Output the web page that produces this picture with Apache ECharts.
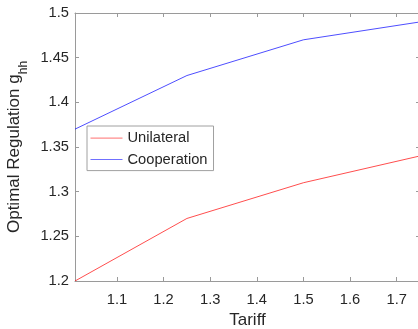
<!DOCTYPE html>
<html>
<head>
<meta charset="utf-8">
<script src="https://cdn.jsdelivr.net/npm/echarts@6/dist/echarts.min.js"></script>
<style>
html,body{margin:0;padding:0;background:#fff;}
#c{width:418px;height:329px;}
</style>
</head>
<body>
<div id="c"></div>
<script>
var tariff = [1.01, 1.25, 1.5, 1.75];
var unilateral = [1.2, 1.27, 1.31, 1.34];
var cooperation = [1.37, 1.43, 1.47, 1.49];
var xTicks = [1.1, 1.2, 1.3, 1.4, 1.5, 1.6, 1.7];
var yMin = 1.2, yMax = 1.5, yStep = 0.05;

var font = 'Liberation Sans, Arial, Helvetica, sans-serif';
var axisGray = '#9a9a9a';
var txt = '#262626';
var red = '#ff0000', blue = '#0000ff';

function pairs(xs, ys){ return xs.map(function(x,i){ return [x, ys[i]]; }); }

var chart = echarts.init(document.getElementById('c'), null, {renderer:'canvas'});
chart.setOption({
  animation:false,
  backgroundColor:'#fff',
  grid:{left:75, top:13, right:-2, bottom:48, containLabel:false, outerBoundsMode:'none'},
  legend:{
    orient:'vertical', left:87, top:126,
    backgroundColor:'#fff', borderColor:'#a0a0a0', borderWidth:1,
    padding:[4.6,6,3.6,3],
    itemWidth:32, itemHeight:14, itemGap:6.4,
    itemStyle:{opacity:0},
    lineStyle:{width:1},
    textStyle:{fontFamily:font, fontSize:14.7, color:txt, lineHeight:14},
    data:[
      {name:'Unilateral', lineStyle:{color:'#ff7070', width:1}},
      {name:'Cooperation', lineStyle:{color:'#7070ff', width:1}}
    ]
  },
  xAxis:[{
    type:'value', min:1.01, max:1.75, position:'bottom',
    name:'Tariff', nameLocation:'middle', nameGap:31,
    nameTextStyle:{fontFamily:font, fontSize:17, color:txt},
    axisLine:{show:true, onZero:false, lineStyle:{color:axisGray, width:1}},
    axisTick:{show:true, inside:true, length:4, customValues:xTicks, lineStyle:{color:axisGray}},
    axisLabel:{show:true, customValues:xTicks, margin:11, fontFamily:font, fontSize:14.7, color:txt,
      formatter:function(v){ return (+v).toFixed(1); }},
    splitLine:{show:false}
  },{
    type:'value', min:1.01, max:1.75, position:'top',
    axisLine:{show:true, onZero:false, lineStyle:{color:axisGray, width:1}},
    axisTick:{show:true, inside:true, length:4, customValues:xTicks, lineStyle:{color:axisGray}},
    axisLabel:{show:false},
    splitLine:{show:false}
  }],
  yAxis:[{
    type:'value', min:yMin, max:yMax, interval:yStep, position:'left',
    name:'{a|Optimal Regulation g}{s|hh}', nameLocation:'middle', nameGap:39, nameRotate:90,
    nameTextStyle:{fontFamily:font, fontSize:17, color:txt,
      rich:{
        a:{fontFamily:font, fontSize:17, color:txt, lineHeight:24, verticalAlign:'top'},
        s:{fontFamily:font, fontSize:12, color:txt, lineHeight:24, verticalAlign:'bottom'}
      }},
    axisLine:{show:true, onZero:false, lineStyle:{color:axisGray, width:1}},
    axisTick:{show:true, inside:true, length:4, lineStyle:{color:axisGray}},
    axisLabel:{show:true, margin:6, fontFamily:font, fontSize:14.7, color:txt,
      formatter:function(v){ var s = (+v).toFixed(2); return s.replace(/0$/,''); }},
    splitLine:{show:false}
  },{
    type:'value', min:yMin, max:yMax, interval:yStep, position:'right',
    axisLine:{show:true, onZero:false, lineStyle:{color:axisGray, width:1}},
    axisTick:{show:true, inside:true, length:4, lineStyle:{color:axisGray}},
    axisLabel:{show:false},
    splitLine:{show:false}
  }],
  series:[{
    name:'Unilateral', type:'line', data:pairs(tariff, unilateral),
    symbol:'none', lineStyle:{color:red, width:0.7}, itemStyle:{color:red}
  },{
    name:'Cooperation', type:'line', data:pairs(tariff, cooperation),
    symbol:'none', lineStyle:{color:blue, width:0.7}, itemStyle:{color:blue}
  }]
});
</script>
</body>
</html>
